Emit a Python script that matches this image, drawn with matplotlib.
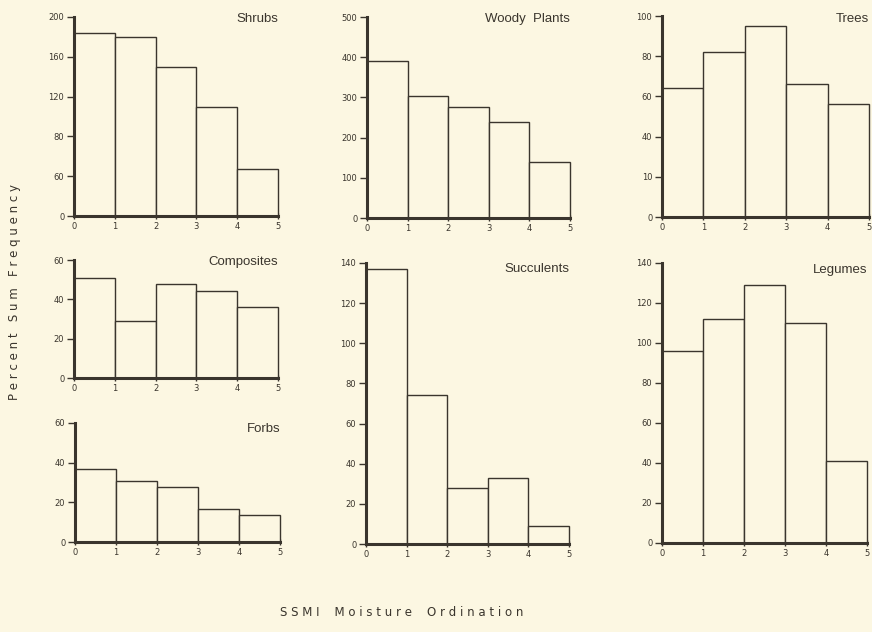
import matplotlib
matplotlib.use('Agg')
import matplotlib.pyplot as plt
from matplotlib.transforms import offset_copy

# Bin edges along the moisture ordination
bin_edges = [0, 1, 2, 3, 4]

# Bar heights (in axis units)
shrubs = [184, 180, 150, 110, 47]
woody_plants = [390, 303, 277, 240, 139]
trees = [64, 82, 95, 66, 56]
composites = [51, 29, 48, 44, 36]
forbs = [37, 31, 27.5, 16.5, 13.5]
succulents = [137, 74, 28, 33, 9]
legumes = [96, 112, 129, 110, 41]

# Y tick positions and labels as printed (the scan has a few odd labels)
shrubs_ticks = [0, 40, 80, 120, 160, 200]
shrubs_labels = ['0', '60', '80', '120', '160', '200']
woody_ticks = [0, 100, 200, 300, 400, 500]
woody_labels = ['0', '100', '200', '300', '400', '500']
trees_ticks = [0, 20, 40, 60, 80, 100]
trees_labels = ['0', '10', '40', '60', '80', '100']
small_ticks = [0, 20, 40, 60]
small_labels = ['0', '20', '40', '60']
tall_ticks = [0, 20, 40, 60, 80, 100, 120, 140]
tall_labels = ['0', '20', '40', '60', '80', '100', '120', '140']
x_labels = ['0', '1', '2', '3', '4', '5']

BG = '#fcf7e2'
INK = '#3a352d'
W, H = 872, 632

fig = plt.figure(figsize=(W / 100, H / 100), dpi=100, facecolor=BG)


def panel(left, top, right, bottom, name, values, ymax, ticks, labels, title_drop):
    """Add a histogram panel given its box in pixel coords (from top-left)."""
    ax = fig.add_axes([left / W, 1 - bottom / H, (right - left) / W, (bottom - top) / H])
    ax.set_facecolor(BG)
    bars = ax.bar(bin_edges, values, width=1, align='edge', facecolor=BG,
                  edgecolor=INK, linewidth=1.0, zorder=2)
    for b in bars:
        b.set_clip_on(False)
    ax.set_xlim(0, 5)
    ax.set_ylim(0, ymax)
    ax.set_xticks(range(6))
    ax.set_xticklabels(x_labels)
    ax.set_yticks(ticks)
    ax.set_yticklabels(labels)
    for side in ('top', 'right'):
        ax.spines[side].set_visible(False)
    for side in ('left', 'bottom'):
        ax.spines[side].set_linewidth(2.2)
        ax.spines[side].set_color(INK)
        ax.spines[side].set_zorder(3)
    ax.tick_params(axis='y', direction='out', length=5, width=1, color=INK,
                   labelsize=6, labelcolor=INK, pad=2)
    ax.tick_params(axis='x', direction='inout', length=5, width=1, color=INK,
                   labelsize=6, labelcolor=INK, pad=1.5)
    # title baseline sits a few pixels below the top of the axis
    tr = offset_copy(ax.transAxes, fig=fig, x=0, y=-title_drop * 0.72, units='points')
    ax.text(1.0, 1.0, name, transform=tr, ha='right', va='baseline',
            fontsize=9.5, color=INK, family='Liberation Sans')
    return ax


panel(74, 17, 278, 216, 'Shrubs', shrubs, 200, shrubs_ticks, shrubs_labels, 5)
panel(367, 17, 570, 218, 'Woody  Plants', woody_plants, 500, woody_ticks, woody_labels, 5)
panel(662, 16, 869, 217, 'Trees', trees, 100, trees_ticks, trees_labels, 6)
panel(74, 260, 278, 378, 'Composites', composites, 60, small_ticks, small_labels, 5)
panel(75, 423, 280, 542, 'Forbs', forbs, 60, small_ticks, small_labels, 9)
panel(366, 263, 569, 544, 'Succulents', succulents, 140, tall_ticks, tall_labels, 9)
panel(662, 263, 867, 543, 'Legumes', legumes, 140, tall_ticks, tall_labels, 10)

fig.text(15 / W, 1 - 292 / H, 'P e r c e n t   S u m   F r e q u e n c y',
         rotation=90, ha='center', va='center', fontsize=8.5, color=INK,
         family='DejaVu Sans')
fig.text(402 / W, 1 - 612 / H, 'S S M I    M o i s t u r e    O r d i n a t i o n',
         ha='center', va='center', fontsize=8.5, color=INK, family='DejaVu Sans')

fig.savefig('out.png', dpi=100, facecolor=BG)
